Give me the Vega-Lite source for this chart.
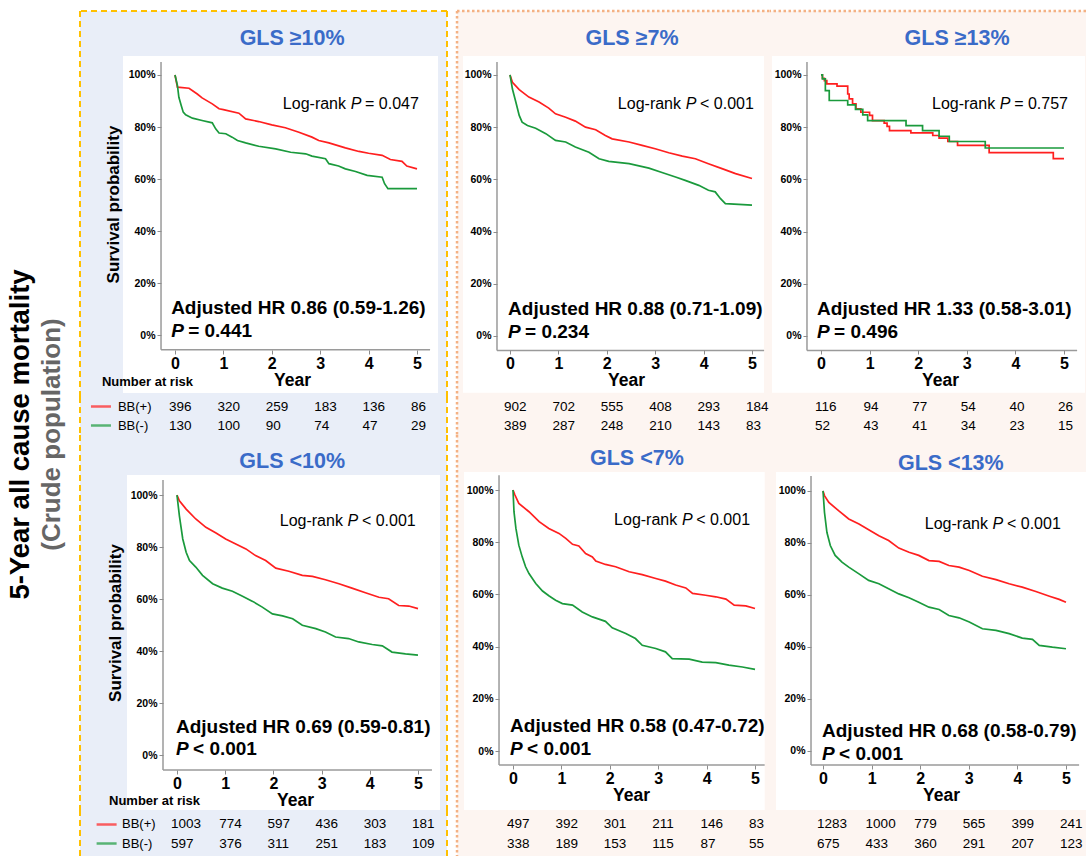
{
"$schema": "https://vega.github.io/schema/vega-lite/v6.json",
"background": "#ffffff",
"padding": {"left": 6, "top": 9, "right": 0, "bottom": 0},
"title": {"text": "5-Year all cause mortality", "subtitle": "(Crude population)", "orient": "left", "anchor": "middle", "font": "Liberation Sans", "fontSize": 27.5, "fontWeight": "bold", "color": "#000000", "subtitleFont": "Liberation Sans", "subtitleFontSize": 26, "subtitleFontWeight": "bold", "subtitleColor": "#666666", "subtitlePadding": 5, "offset": 14},
"config": {
  "font": "Liberation Sans",
  "view": {"stroke": null},
  "axis": {"grid": false, "domain": false, "labelColor": "#000000", "labelFontWeight": "bold", "tickColor": "#8c8c8c", "tickWidth": 1, "titleColor": "#000000", "titleFontWeight": "bold", "labelFont": "Liberation Sans", "titleFont": "Liberation Sans"},
  "axisX": {"labelFontSize": 16, "tickSize": 4, "labelPadding": 1, "titleFontSize": 17.5, "titlePadding": 0},
  "axisY": {"labelFontSize": 10.5, "tickSize": 4, "labelPadding": 2, "titleFontSize": 17, "titlePadding": 6}
},
"datasets": {
  "km1": [
    {"g":"BB(+)","t":0,"s":1},{"g":"BB(+)","t":0.05,"s":0.953},{"g":"BB(+)","t":0.29,"s":0.949},{"g":"BB(+)","t":0.46,"s":0.927},{"g":"BB(+)","t":0.56,"s":0.912},{"g":"BB(+)","t":0.77,"s":0.889},{"g":"BB(+)","t":0.91,"s":0.87},{"g":"BB(+)","t":1.0,"s":0.867},{"g":"BB(+)","t":1.32,"s":0.853},{"g":"BB(+)","t":1.46,"s":0.831},{"g":"BB(+)","t":1.73,"s":0.821},{"g":"BB(+)","t":2.0,"s":0.808},{"g":"BB(+)","t":2.28,"s":0.797},{"g":"BB(+)","t":2.56,"s":0.78},{"g":"BB(+)","t":2.83,"s":0.761},{"g":"BB(+)","t":2.97,"s":0.748},{"g":"BB(+)","t":3.18,"s":0.739},{"g":"BB(+)","t":3.52,"s":0.72},{"g":"BB(+)","t":3.8,"s":0.706},{"g":"BB(+)","t":4.0,"s":0.699},{"g":"BB(+)","t":4.28,"s":0.691},{"g":"BB(+)","t":4.45,"s":0.675},{"g":"BB(+)","t":4.69,"s":0.668},{"g":"BB(+)","t":4.79,"s":0.65},{"g":"BB(+)","t":5.0,"s":0.639},
    {"g":"BB(-)","t":0,"s":1},{"g":"BB(-)","t":0.05,"s":0.96},{"g":"BB(-)","t":0.08,"s":0.914},{"g":"BB(-)","t":0.13,"s":0.882},{"g":"BB(-)","t":0.17,"s":0.857},{"g":"BB(-)","t":0.22,"s":0.847},{"g":"BB(-)","t":0.36,"s":0.834},{"g":"BB(-)","t":0.56,"s":0.825},{"g":"BB(-)","t":0.77,"s":0.816},{"g":"BB(-)","t":0.84,"s":0.793},{"g":"BB(-)","t":0.91,"s":0.777},{"g":"BB(-)","t":1.05,"s":0.774},{"g":"BB(-)","t":1.18,"s":0.761},{"g":"BB(-)","t":1.29,"s":0.748},{"g":"BB(-)","t":1.46,"s":0.739},{"g":"BB(-)","t":1.73,"s":0.726},{"g":"BB(-)","t":2.08,"s":0.716},{"g":"BB(-)","t":2.39,"s":0.703},{"g":"BB(-)","t":2.7,"s":0.697},{"g":"BB(-)","t":2.83,"s":0.688},{"g":"BB(-)","t":3.11,"s":0.678},{"g":"BB(-)","t":3.18,"s":0.659},{"g":"BB(-)","t":3.38,"s":0.65},{"g":"BB(-)","t":3.52,"s":0.639},{"g":"BB(-)","t":3.73,"s":0.629},{"g":"BB(-)","t":3.97,"s":0.614},{"g":"BB(-)","t":4.28,"s":0.607},{"g":"BB(-)","t":4.33,"s":0.582},{"g":"BB(-)","t":4.4,"s":0.563},{"g":"BB(-)","t":5.0,"s":0.563}
  ],
  "km2": [
    {"g":"BB(+)","t":0,"s":1},{"g":"BB(+)","t":0.05,"s":0.972},{"g":"BB(+)","t":0.19,"s":0.944},{"g":"BB(+)","t":0.39,"s":0.915},{"g":"BB(+)","t":0.6,"s":0.896},{"g":"BB(+)","t":0.8,"s":0.873},{"g":"BB(+)","t":0.94,"s":0.851},{"g":"BB(+)","t":1.15,"s":0.838},{"g":"BB(+)","t":1.35,"s":0.823},{"g":"BB(+)","t":1.56,"s":0.8},{"g":"BB(+)","t":1.77,"s":0.79},{"g":"BB(+)","t":1.97,"s":0.768},{"g":"BB(+)","t":2.11,"s":0.755},{"g":"BB(+)","t":2.46,"s":0.743},{"g":"BB(+)","t":2.73,"s":0.73},{"g":"BB(+)","t":3.0,"s":0.717},{"g":"BB(+)","t":3.28,"s":0.702},{"g":"BB(+)","t":3.56,"s":0.689},{"g":"BB(+)","t":3.83,"s":0.679},{"g":"BB(+)","t":4.1,"s":0.66},{"g":"BB(+)","t":4.38,"s":0.641},{"g":"BB(+)","t":4.66,"s":0.622},{"g":"BB(+)","t":5.0,"s":0.603},
    {"g":"BB(-)","t":0,"s":1},{"g":"BB(-)","t":0.05,"s":0.946},{"g":"BB(-)","t":0.12,"s":0.896},{"g":"BB(-)","t":0.19,"s":0.845},{"g":"BB(-)","t":0.25,"s":0.819},{"g":"BB(-)","t":0.36,"s":0.806},{"g":"BB(-)","t":0.53,"s":0.796},{"g":"BB(-)","t":0.74,"s":0.775},{"g":"BB(-)","t":0.94,"s":0.749},{"g":"BB(-)","t":1.15,"s":0.743},{"g":"BB(-)","t":1.35,"s":0.724},{"g":"BB(-)","t":1.63,"s":0.704},{"g":"BB(-)","t":1.84,"s":0.679},{"g":"BB(-)","t":2.04,"s":0.669},{"g":"BB(-)","t":2.46,"s":0.66},{"g":"BB(-)","t":2.87,"s":0.643},{"g":"BB(-)","t":3.14,"s":0.626},{"g":"BB(-)","t":3.42,"s":0.609},{"g":"BB(-)","t":3.62,"s":0.596},{"g":"BB(-)","t":3.9,"s":0.577},{"g":"BB(-)","t":4.1,"s":0.558},{"g":"BB(-)","t":4.24,"s":0.552},{"g":"BB(-)","t":4.35,"s":0.526},{"g":"BB(-)","t":4.45,"s":0.507},{"g":"BB(-)","t":5.0,"s":0.501}
  ],
  "km3": [
    {"g":"BB(+)","t":0,"s":1},{"g":"BB(+)","t":0.03,"s":0.987},{"g":"BB(+)","t":0.07,"s":0.978},{"g":"BB(+)","t":0.12,"s":0.966},{"g":"BB(+)","t":0.33,"s":0.957},{"g":"BB(+)","t":0.55,"s":0.927},{"g":"BB(+)","t":0.58,"s":0.908},{"g":"BB(+)","t":0.65,"s":0.889},{"g":"BB(+)","t":0.72,"s":0.87},{"g":"BB(+)","t":0.82,"s":0.857},{"g":"BB(+)","t":1.0,"s":0.845},{"g":"BB(+)","t":1.06,"s":0.825},{"g":"BB(+)","t":1.3,"s":0.815},{"g":"BB(+)","t":1.36,"s":0.803},{"g":"BB(+)","t":1.41,"s":0.787},{"g":"BB(+)","t":1.85,"s":0.778},{"g":"BB(+)","t":2.3,"s":0.768},{"g":"BB(+)","t":2.43,"s":0.758},{"g":"BB(+)","t":2.61,"s":0.745},{"g":"BB(+)","t":2.81,"s":0.73},{"g":"BB(+)","t":3.46,"s":0.702},{"g":"BB(+)","t":4.78,"s":0.679},{"g":"BB(+)","t":5.0,"s":0.679},
    {"g":"BB(-)","t":0,"s":1},{"g":"BB(-)","t":0.03,"s":0.985},{"g":"BB(-)","t":0.09,"s":0.94},{"g":"BB(-)","t":0.17,"s":0.902},{"g":"BB(-)","t":0.55,"s":0.885},{"g":"BB(-)","t":0.71,"s":0.868},{"g":"BB(-)","t":0.86,"s":0.847},{"g":"BB(-)","t":0.96,"s":0.825},{"g":"BB(-)","t":1.75,"s":0.806},{"g":"BB(-)","t":2.09,"s":0.787},{"g":"BB(-)","t":2.43,"s":0.765},{"g":"BB(-)","t":2.64,"s":0.745},{"g":"BB(-)","t":3.38,"s":0.72},{"g":"BB(-)","t":5.0,"s":0.72}
  ],
  "km4": [
    {"g":"BB(+)","t":0,"s":1},{"g":"BB(+)","t":0.05,"s":0.978},{"g":"BB(+)","t":0.19,"s":0.946},{"g":"BB(+)","t":0.39,"s":0.908},{"g":"BB(+)","t":0.6,"s":0.876},{"g":"BB(+)","t":0.81,"s":0.854},{"g":"BB(+)","t":1.01,"s":0.831},{"g":"BB(+)","t":1.22,"s":0.812},{"g":"BB(+)","t":1.43,"s":0.793},{"g":"BB(+)","t":1.63,"s":0.767},{"g":"BB(+)","t":1.84,"s":0.748},{"g":"BB(+)","t":2.05,"s":0.719},{"g":"BB(+)","t":2.32,"s":0.707},{"g":"BB(+)","t":2.6,"s":0.691},{"g":"BB(+)","t":2.81,"s":0.687},{"g":"BB(+)","t":3.08,"s":0.674},{"g":"BB(+)","t":3.36,"s":0.659},{"g":"BB(+)","t":3.63,"s":0.642},{"g":"BB(+)","t":3.91,"s":0.624},{"g":"BB(+)","t":4.19,"s":0.607},{"g":"BB(+)","t":4.39,"s":0.601},{"g":"BB(+)","t":4.6,"s":0.575},{"g":"BB(+)","t":4.81,"s":0.573},{"g":"BB(+)","t":5.0,"s":0.563},
    {"g":"BB(-)","t":0,"s":1},{"g":"BB(-)","t":0.05,"s":0.92},{"g":"BB(-)","t":0.12,"s":0.831},{"g":"BB(-)","t":0.19,"s":0.78},{"g":"BB(-)","t":0.26,"s":0.748},{"g":"BB(-)","t":0.39,"s":0.723},{"g":"BB(-)","t":0.53,"s":0.691},{"g":"BB(-)","t":0.74,"s":0.659},{"g":"BB(-)","t":0.94,"s":0.642},{"g":"BB(-)","t":1.15,"s":0.63},{"g":"BB(-)","t":1.36,"s":0.611},{"g":"BB(-)","t":1.57,"s":0.591},{"g":"BB(-)","t":1.77,"s":0.569},{"g":"BB(-)","t":1.98,"s":0.543},{"g":"BB(-)","t":2.19,"s":0.535},{"g":"BB(-)","t":2.4,"s":0.524},{"g":"BB(-)","t":2.6,"s":0.499},{"g":"BB(-)","t":2.88,"s":0.486},{"g":"BB(-)","t":3.08,"s":0.473},{"g":"BB(-)","t":3.29,"s":0.454},{"g":"BB(-)","t":3.56,"s":0.448},{"g":"BB(-)","t":3.77,"s":0.435},{"g":"BB(-)","t":4.05,"s":0.425},{"g":"BB(-)","t":4.26,"s":0.42},{"g":"BB(-)","t":4.46,"s":0.396},{"g":"BB(-)","t":4.74,"s":0.389},{"g":"BB(-)","t":5.0,"s":0.384}
  ],
  "km5": [
    {"g":"BB(+)","t":0,"s":1},{"g":"BB(+)","t":0.04,"s":0.981},{"g":"BB(+)","t":0.12,"s":0.949},{"g":"BB(+)","t":0.33,"s":0.917},{"g":"BB(+)","t":0.54,"s":0.879},{"g":"BB(+)","t":0.74,"s":0.853},{"g":"BB(+)","t":0.95,"s":0.834},{"g":"BB(+)","t":1.09,"s":0.815},{"g":"BB(+)","t":1.23,"s":0.792},{"g":"BB(+)","t":1.36,"s":0.786},{"g":"BB(+)","t":1.5,"s":0.757},{"g":"BB(+)","t":1.64,"s":0.744},{"g":"BB(+)","t":1.71,"s":0.728},{"g":"BB(+)","t":1.91,"s":0.715},{"g":"BB(+)","t":2.12,"s":0.706},{"g":"BB(+)","t":2.4,"s":0.687},{"g":"BB(+)","t":2.67,"s":0.676},{"g":"BB(+)","t":2.95,"s":0.661},{"g":"BB(+)","t":3.15,"s":0.651},{"g":"BB(+)","t":3.36,"s":0.636},{"g":"BB(+)","t":3.57,"s":0.625},{"g":"BB(+)","t":3.71,"s":0.604},{"g":"BB(+)","t":3.98,"s":0.597},{"g":"BB(+)","t":4.19,"s":0.591},{"g":"BB(+)","t":4.4,"s":0.582},{"g":"BB(+)","t":4.57,"s":0.559},{"g":"BB(+)","t":4.81,"s":0.556},{"g":"BB(+)","t":5.0,"s":0.546},
    {"g":"BB(-)","t":0,"s":1},{"g":"BB(-)","t":0.02,"s":0.917},{"g":"BB(-)","t":0.06,"s":0.853},{"g":"BB(-)","t":0.12,"s":0.789},{"g":"BB(-)","t":0.19,"s":0.744},{"g":"BB(-)","t":0.26,"s":0.706},{"g":"BB(-)","t":0.33,"s":0.68},{"g":"BB(-)","t":0.47,"s":0.642},{"g":"BB(-)","t":0.61,"s":0.613},{"g":"BB(-)","t":0.74,"s":0.595},{"g":"BB(-)","t":0.88,"s":0.578},{"g":"BB(-)","t":1.02,"s":0.565},{"g":"BB(-)","t":1.23,"s":0.559},{"g":"BB(-)","t":1.43,"s":0.533},{"g":"BB(-)","t":1.64,"s":0.514},{"g":"BB(-)","t":1.91,"s":0.497},{"g":"BB(-)","t":2.05,"s":0.472},{"g":"BB(-)","t":2.33,"s":0.45},{"g":"BB(-)","t":2.53,"s":0.431},{"g":"BB(-)","t":2.67,"s":0.405},{"g":"BB(-)","t":2.95,"s":0.393},{"g":"BB(-)","t":3.15,"s":0.38},{"g":"BB(-)","t":3.29,"s":0.354},{"g":"BB(-)","t":3.64,"s":0.352},{"g":"BB(-)","t":3.91,"s":0.341},{"g":"BB(-)","t":4.19,"s":0.339},{"g":"BB(-)","t":4.46,"s":0.329},{"g":"BB(-)","t":4.74,"s":0.322},{"g":"BB(-)","t":5.0,"s":0.313}
  ],
  "km6": [
    {"g":"BB(+)","t":0,"s":1},{"g":"BB(+)","t":0.03,"s":0.982},{"g":"BB(+)","t":0.12,"s":0.956},{"g":"BB(+)","t":0.32,"s":0.924},{"g":"BB(+)","t":0.53,"s":0.892},{"g":"BB(+)","t":0.74,"s":0.873},{"g":"BB(+)","t":0.94,"s":0.851},{"g":"BB(+)","t":1.15,"s":0.828},{"g":"BB(+)","t":1.35,"s":0.809},{"g":"BB(+)","t":1.56,"s":0.78},{"g":"BB(+)","t":1.77,"s":0.764},{"g":"BB(+)","t":1.97,"s":0.752},{"g":"BB(+)","t":2.18,"s":0.732},{"g":"BB(+)","t":2.39,"s":0.729},{"g":"BB(+)","t":2.59,"s":0.713},{"g":"BB(+)","t":2.8,"s":0.707},{"g":"BB(+)","t":3.01,"s":0.694},{"g":"BB(+)","t":3.28,"s":0.672},{"g":"BB(+)","t":3.56,"s":0.659},{"g":"BB(+)","t":3.83,"s":0.643},{"g":"BB(+)","t":4.1,"s":0.63},{"g":"BB(+)","t":4.38,"s":0.613},{"g":"BB(+)","t":4.66,"s":0.595},{"g":"BB(+)","t":4.86,"s":0.583},{"g":"BB(+)","t":5.0,"s":0.572},
    {"g":"BB(-)","t":0,"s":1},{"g":"BB(-)","t":0.03,"s":0.918},{"g":"BB(-)","t":0.08,"s":0.841},{"g":"BB(-)","t":0.15,"s":0.79},{"g":"BB(-)","t":0.25,"s":0.752},{"g":"BB(-)","t":0.39,"s":0.726},{"g":"BB(-)","t":0.53,"s":0.707},{"g":"BB(-)","t":0.74,"s":0.681},{"g":"BB(-)","t":0.94,"s":0.656},{"g":"BB(-)","t":1.15,"s":0.643},{"g":"BB(-)","t":1.35,"s":0.624},{"g":"BB(-)","t":1.56,"s":0.604},{"g":"BB(-)","t":1.77,"s":0.589},{"g":"BB(-)","t":1.97,"s":0.572},{"g":"BB(-)","t":2.18,"s":0.553},{"g":"BB(-)","t":2.39,"s":0.544},{"g":"BB(-)","t":2.59,"s":0.521},{"g":"BB(-)","t":2.8,"s":0.512},{"g":"BB(-)","t":3.01,"s":0.496},{"g":"BB(-)","t":3.28,"s":0.47},{"g":"BB(-)","t":3.56,"s":0.464},{"g":"BB(-)","t":3.83,"s":0.451},{"g":"BB(-)","t":4.1,"s":0.434},{"g":"BB(-)","t":4.31,"s":0.429},{"g":"BB(-)","t":4.45,"s":0.406},{"g":"BB(-)","t":4.72,"s":0.399},{"g":"BB(-)","t":5.0,"s":0.393}
  ],
  "r1": [{"g":"BB(+)","t":0,"n":396},{"g":"BB(+)","t":1,"n":320},{"g":"BB(+)","t":2,"n":259},{"g":"BB(+)","t":3,"n":183},{"g":"BB(+)","t":4,"n":136},{"g":"BB(+)","t":5,"n":86},{"g":"BB(-)","t":0,"n":130},{"g":"BB(-)","t":1,"n":100},{"g":"BB(-)","t":2,"n":90},{"g":"BB(-)","t":3,"n":74},{"g":"BB(-)","t":4,"n":47},{"g":"BB(-)","t":5,"n":29}],
  "r2": [{"g":"BB(+)","t":0,"n":902},{"g":"BB(+)","t":1,"n":702},{"g":"BB(+)","t":2,"n":555},{"g":"BB(+)","t":3,"n":408},{"g":"BB(+)","t":4,"n":293},{"g":"BB(+)","t":5,"n":184},{"g":"BB(-)","t":0,"n":389},{"g":"BB(-)","t":1,"n":287},{"g":"BB(-)","t":2,"n":248},{"g":"BB(-)","t":3,"n":210},{"g":"BB(-)","t":4,"n":143},{"g":"BB(-)","t":5,"n":83}],
  "r3": [{"g":"BB(+)","t":0,"n":116},{"g":"BB(+)","t":1,"n":94},{"g":"BB(+)","t":2,"n":77},{"g":"BB(+)","t":3,"n":54},{"g":"BB(+)","t":4,"n":40},{"g":"BB(+)","t":5,"n":26},{"g":"BB(-)","t":0,"n":52},{"g":"BB(-)","t":1,"n":43},{"g":"BB(-)","t":2,"n":41},{"g":"BB(-)","t":3,"n":34},{"g":"BB(-)","t":4,"n":23},{"g":"BB(-)","t":5,"n":15}],
  "r4": [{"g":"BB(+)","t":0,"n":1003},{"g":"BB(+)","t":1,"n":774},{"g":"BB(+)","t":2,"n":597},{"g":"BB(+)","t":3,"n":436},{"g":"BB(+)","t":4,"n":303},{"g":"BB(+)","t":5,"n":181},{"g":"BB(-)","t":0,"n":597},{"g":"BB(-)","t":1,"n":376},{"g":"BB(-)","t":2,"n":311},{"g":"BB(-)","t":3,"n":251},{"g":"BB(-)","t":4,"n":183},{"g":"BB(-)","t":5,"n":109}],
  "r5": [{"g":"BB(+)","t":0,"n":497},{"g":"BB(+)","t":1,"n":392},{"g":"BB(+)","t":2,"n":301},{"g":"BB(+)","t":3,"n":211},{"g":"BB(+)","t":4,"n":146},{"g":"BB(+)","t":5,"n":83},{"g":"BB(-)","t":0,"n":338},{"g":"BB(-)","t":1,"n":189},{"g":"BB(-)","t":2,"n":153},{"g":"BB(-)","t":3,"n":115},{"g":"BB(-)","t":4,"n":87},{"g":"BB(-)","t":5,"n":55}],
  "r6": [{"g":"BB(+)","t":0,"n":1283},{"g":"BB(+)","t":1,"n":1000},{"g":"BB(+)","t":2,"n":779},{"g":"BB(+)","t":3,"n":565},{"g":"BB(+)","t":4,"n":399},{"g":"BB(+)","t":5,"n":241},{"g":"BB(-)","t":0,"n":675},{"g":"BB(-)","t":1,"n":433},{"g":"BB(-)","t":2,"n":360},{"g":"BB(-)","t":3,"n":291},{"g":"BB(-)","t":4,"n":207},{"g":"BB(-)","t":5,"n":123}],
  "groups": [{"g":"BB(+)"},{"g":"BB(-)"}]
},
"columns": 3,
"spacing": {"row": 0, "column": 0},
"bounds": "flush",
"align": "each",
"concat": [
  {"width": 367, "height": 386, "view": {"fill": "#e9eef8", "stroke": null},
   "layer": [
    {"data": {"values": [{}]}, "mark": {"type": "rect", "fill": "#ffffff"}, "encoding": {
      "x": {"datum": -1.074, "type": "quantitative", "scale": {"domain": [-1.963, 5.62], "nice": false, "zero": false}, "axis": {"values": [0,1,2,3,4,5], "offset": -47, "title": "Year", "titleX": 212, "zindex": 1}},
      "x2": {"datum": 5.434},
      "y": {"datum": 1.073, "type": "quantitative", "scale": {"domain": [-0.238, 1.246], "nice": false, "zero": false}, "axis": {"values": [0,0.2,0.4,0.6,0.8,1], "format": ".0%", "offset": -81, "title": "Survival probability", "zindex": 1}},
      "y2": {"datum": -0.223}}},
    {"data": {"values": [{}]}, "mark": {"type": "rule", "color": "#9a9a9a", "strokeWidth": 1.5}, "encoding": {"x": {"datum": -0.289, "type": "quantitative", "scale": {"domain": [-1.963, 5.62], "nice": false, "zero": false}}, "y": {"datum": -0.056, "type": "quantitative", "scale": {"domain": [-0.238, 1.246], "nice": false, "zero": false}}, "y2": {"datum": 1.05}}},
    {"data": {"values": [{}]}, "mark": {"type": "rule", "color": "#9a9a9a", "strokeWidth": 1.5}, "encoding": {"x": {"datum": -0.289, "type": "quantitative", "scale": {"domain": [-1.963, 5.62], "nice": false, "zero": false}}, "x2": {"datum": 5.27}, "y": {"datum": -0.056, "type": "quantitative", "scale": {"domain": [-0.238, 1.246], "nice": false, "zero": false}}}},
    {"data": {"name": "km1"}, "mark": {"type": "line", "strokeWidth": 1.7}, "encoding": {"x": {"field": "t", "type": "quantitative", "title": "Year", "scale": {"domain": [-1.963, 5.62], "nice": false, "zero": false}}, "y": {"field": "s", "type": "quantitative", "title": "Survival probability", "scale": {"domain": [-0.238, 1.246], "nice": false, "zero": false}}, "color": {"field": "g", "type": "nominal", "scale": {"domain": ["BB(+)","BB(-)"], "range": ["#ff1f1f","#1a9a3c"]}, "legend": null}}},
    {"data": {"values": [{}]}, "mark": {"type": "text", "text": "GLS ≥10%", "fontSize": 21.5, "fontWeight": "bold", "color": "#3a6bc8", "align": "center", "baseline": "middle"}, "encoding": {"x": {"datum": 2.42, "type": "quantitative", "scale": {"domain": [-1.963, 5.62], "nice": false, "zero": false}}, "y": {"datum": 1.138, "type": "quantitative", "scale": {"domain": [-0.238, 1.246], "nice": false, "zero": false}}}},
    {"data": {"values": [{}]}, "mark": {"type": "text", "text": "Log-rank", "fontSize": 16, "color": "#000000", "align": "right", "dx": -10, "baseline": "middle"}, "encoding": {"x": {"datum": 3.74, "type": "quantitative", "scale": {"domain": [-1.963, 5.62], "nice": false, "zero": false}}, "y": {"datum": 0.888, "type": "quantitative", "scale": {"domain": [-0.238, 1.246], "nice": false, "zero": false}}}},
    {"data": {"values": [{}]}, "mark": {"type": "text", "text": "P", "fontSize": 16, "fontStyle": "italic", "color": "#000000", "align": "center", "baseline": "middle"}, "encoding": {"x": {"datum": 3.74, "type": "quantitative", "scale": {"domain": [-1.963, 5.62], "nice": false, "zero": false}}, "y": {"datum": 0.888, "type": "quantitative", "scale": {"domain": [-0.238, 1.246], "nice": false, "zero": false}}}},
    {"data": {"values": [{}]}, "mark": {"type": "text", "text": "= 0.047", "fontSize": 16, "color": "#000000", "align": "left", "dx": 9, "baseline": "middle"}, "encoding": {"x": {"datum": 3.74, "type": "quantitative", "scale": {"domain": [-1.963, 5.62], "nice": false, "zero": false}}, "y": {"datum": 0.888, "type": "quantitative", "scale": {"domain": [-0.238, 1.246], "nice": false, "zero": false}}}},
    {"data": {"values": [{}]}, "mark": {"type": "text", "text": "Adjusted HR 0.86 (0.59-1.26)", "fontSize": 19, "fontWeight": "bold", "color": "#000000", "align": "left", "baseline": "middle"}, "encoding": {"x": {"datum": -0.08, "type": "quantitative", "scale": {"domain": [-1.963, 5.62], "nice": false, "zero": false}}, "y": {"datum": 0.104, "type": "quantitative", "scale": {"domain": [-0.238, 1.246], "nice": false, "zero": false}}}},
    {"data": {"values": [{}]}, "mark": {"type": "text", "text": "P", "fontSize": 19, "fontWeight": "bold", "fontStyle": "italic", "color": "#000000", "align": "left", "baseline": "middle"}, "encoding": {"x": {"datum": -0.08, "type": "quantitative", "scale": {"domain": [-1.963, 5.62], "nice": false, "zero": false}}, "y": {"datum": 0.015, "type": "quantitative", "scale": {"domain": [-0.238, 1.246], "nice": false, "zero": false}}}},
    {"data": {"values": [{}]}, "mark": {"type": "text", "text": "= 0.441", "fontSize": 19, "fontWeight": "bold", "color": "#000000", "align": "left", "dx": 17, "baseline": "middle"}, "encoding": {"x": {"datum": -0.08, "type": "quantitative", "scale": {"domain": [-1.963, 5.62], "nice": false, "zero": false}}, "y": {"datum": 0.015, "type": "quantitative", "scale": {"domain": [-0.238, 1.246], "nice": false, "zero": false}}}},
    {"data": {"values": [{}]}, "mark": {"type": "text", "text": "Number at risk", "fontSize": 13, "fontWeight": "bold", "color": "#000000", "align": "left", "baseline": "middle"}, "encoding": {"x": {"datum": -1.51, "type": "quantitative", "scale": {"domain": [-1.963, 5.62], "nice": false, "zero": false}}, "y": {"datum": -0.181, "type": "quantitative", "scale": {"domain": [-0.238, 1.246], "nice": false, "zero": false}}}},
    {"data": {"values": [{}]}, "mark": {"type": "rule", "color": "#ffc000", "strokeWidth": 2, "strokeDash": [6,4]}, "encoding": {"x": {"datum": -1.963, "type": "quantitative", "scale": {"domain": [-1.963, 5.62], "nice": false, "zero": false}}}},
    {"data": {"values": [{}]}, "mark": {"type": "rule", "color": "#ffc000", "strokeWidth": 2, "strokeDash": [6,4]}, "encoding": {"x": {"datum": 5.62, "type": "quantitative", "scale": {"domain": [-1.963, 5.62], "nice": false, "zero": false}}}},
    {"data": {"values": [{}]}, "mark": {"type": "rule", "color": "#ffc000", "strokeWidth": 2, "strokeDash": [6,4]}, "encoding": {"y": {"datum": 1.246, "type": "quantitative", "scale": {"domain": [-0.238, 1.246], "nice": false, "zero": false}}}}
   ]},
  {"width": 323, "height": 386,
   "layer": [
    {"data": {"values": [{}]}, "mark": {"type": "rect", "fill": "#fdf5f1"}, "encoding": {"x": {"datum": -1.095, "type": "quantitative", "scale": {"domain": [-1.302, 5.372], "nice": false, "zero": false}}, "x2": {"datum": 5.372}}},
    {"data": {"values": [{}]}, "mark": {"type": "rect", "fill": "#ffffff"}, "encoding": {
      "x": {"datum": -0.971, "type": "quantitative", "scale": {"domain": [-1.302, 5.372], "nice": false, "zero": false}, "axis": {"values": [0,1,2,3,4,5], "offset": -47, "title": "Year", "titleX": 179, "zindex": 1}},
      "x2": {"datum": 5.248},
      "y": {"datum": 1.073, "type": "quantitative", "scale": {"domain": [-0.234, 1.245], "nice": false, "zero": false}, "axis": {"values": [0,0.2,0.4,0.6,0.8,1], "format": ".0%", "offset": -50, "title": null, "zindex": 1}},
      "y2": {"datum": -0.218}}},
    {"data": {"values": [{}]}, "mark": {"type": "rule", "color": "#9a9a9a", "strokeWidth": 1.5}, "encoding": {"x": {"datum": -0.269, "type": "quantitative", "scale": {"domain": [-1.302, 5.372], "nice": false, "zero": false}}, "y": {"datum": -0.056, "type": "quantitative", "scale": {"domain": [-0.234, 1.245], "nice": false, "zero": false}}, "y2": {"datum": 1.05}}},
    {"data": {"values": [{}]}, "mark": {"type": "rule", "color": "#9a9a9a", "strokeWidth": 1.5}, "encoding": {"x": {"datum": -0.269, "type": "quantitative", "scale": {"domain": [-1.302, 5.372], "nice": false, "zero": false}}, "x2": {"datum": 5.25}, "y": {"datum": -0.056, "type": "quantitative", "scale": {"domain": [-0.234, 1.245], "nice": false, "zero": false}}}},
    {"data": {"name": "km2"}, "mark": {"type": "line", "strokeWidth": 1.7}, "encoding": {"x": {"field": "t", "type": "quantitative", "title": "Year", "scale": {"domain": [-1.302, 5.372], "nice": false, "zero": false}}, "y": {"field": "s", "type": "quantitative", "title": null, "scale": {"domain": [-0.234, 1.245], "nice": false, "zero": false}}, "color": {"field": "g", "type": "nominal", "scale": {"domain": ["BB(+)","BB(-)"], "range": ["#ff1f1f","#1a9a3c"]}, "legend": null}}},
    {"data": {"values": [{}]}, "mark": {"type": "text", "text": "GLS ≥7%", "fontSize": 21.5, "fontWeight": "bold", "color": "#3a6bc8", "align": "center", "baseline": "middle"}, "encoding": {"x": {"datum": 2.52, "type": "quantitative", "scale": {"domain": [-1.302, 5.372], "nice": false, "zero": false}}, "y": {"datum": 1.138, "type": "quantitative", "scale": {"domain": [-0.234, 1.245], "nice": false, "zero": false}}}},
    {"data": {"values": [{}]}, "mark": {"type": "text", "text": "Log-rank", "fontSize": 16, "color": "#000000", "align": "right", "dx": -10, "baseline": "middle"}, "encoding": {"x": {"datum": 3.74, "type": "quantitative", "scale": {"domain": [-1.302, 5.372], "nice": false, "zero": false}}, "y": {"datum": 0.888, "type": "quantitative", "scale": {"domain": [-0.234, 1.245], "nice": false, "zero": false}}}},
    {"data": {"values": [{}]}, "mark": {"type": "text", "text": "P", "fontSize": 16, "fontStyle": "italic", "color": "#000000", "align": "center", "baseline": "middle"}, "encoding": {"x": {"datum": 3.74, "type": "quantitative", "scale": {"domain": [-1.302, 5.372], "nice": false, "zero": false}}, "y": {"datum": 0.888, "type": "quantitative", "scale": {"domain": [-0.234, 1.245], "nice": false, "zero": false}}}},
    {"data": {"values": [{}]}, "mark": {"type": "text", "text": "< 0.001", "fontSize": 16, "color": "#000000", "align": "left", "dx": 9, "baseline": "middle"}, "encoding": {"x": {"datum": 3.74, "type": "quantitative", "scale": {"domain": [-1.302, 5.372], "nice": false, "zero": false}}, "y": {"datum": 0.888, "type": "quantitative", "scale": {"domain": [-0.234, 1.245], "nice": false, "zero": false}}}},
    {"data": {"values": [{}]}, "mark": {"type": "text", "text": "Adjusted HR 0.88 (0.71-1.09)", "fontSize": 19, "fontWeight": "bold", "color": "#000000", "align": "left", "baseline": "middle"}, "encoding": {"x": {"datum": -0.04, "type": "quantitative", "scale": {"domain": [-1.302, 5.372], "nice": false, "zero": false}}, "y": {"datum": 0.103, "type": "quantitative", "scale": {"domain": [-0.234, 1.245], "nice": false, "zero": false}}}},
    {"data": {"values": [{}]}, "mark": {"type": "text", "text": "P", "fontSize": 19, "fontWeight": "bold", "fontStyle": "italic", "color": "#000000", "align": "left", "baseline": "middle"}, "encoding": {"x": {"datum": -0.04, "type": "quantitative", "scale": {"domain": [-1.302, 5.372], "nice": false, "zero": false}}, "y": {"datum": 0.015, "type": "quantitative", "scale": {"domain": [-0.234, 1.245], "nice": false, "zero": false}}}},
    {"data": {"values": [{}]}, "mark": {"type": "text", "text": "= 0.234", "fontSize": 19, "fontWeight": "bold", "color": "#000000", "align": "left", "dx": 17, "baseline": "middle"}, "encoding": {"x": {"datum": -0.04, "type": "quantitative", "scale": {"domain": [-1.302, 5.372], "nice": false, "zero": false}}, "y": {"datum": 0.015, "type": "quantitative", "scale": {"domain": [-0.234, 1.245], "nice": false, "zero": false}}}},
    {"data": {"values": [{}]}, "mark": {"type": "rule", "color": "#f4b183", "strokeWidth": 2.5, "strokeDash": [2.5,2.5]}, "encoding": {"x": {"datum": -1.095, "type": "quantitative", "scale": {"domain": [-1.302, 5.372], "nice": false, "zero": false}}}},
    {"data": {"values": [{}]}, "mark": {"type": "rule", "color": "#f4b183", "strokeWidth": 2.5, "strokeDash": [2.5,2.5]}, "encoding": {"x": {"datum": -1.095, "type": "quantitative", "scale": {"domain": [-1.302, 5.372], "nice": false, "zero": false}}, "x2": {"datum": 5.372}, "y": {"datum": 1.245, "type": "quantitative", "scale": {"domain": [-0.234, 1.245], "nice": false, "zero": false}}}}
   ]},
  {"width": 316, "height": 386, "view": {"fill": "#fdf5f1", "stroke": null},
   "layer": [
    {"data": {"values": [{}]}, "mark": {"type": "rect", "fill": "#ffffff"}, "encoding": {
      "x": {"datum": -1.008, "type": "quantitative", "scale": {"domain": [-1.049, 5.453], "nice": false, "zero": false}, "axis": {"values": [0,1,2,3,4,5], "offset": -47, "title": "Year", "titleX": 170, "zindex": 1}},
      "x2": {"datum": 5.432},
      "y": {"datum": 1.073, "type": "quantitative", "scale": {"domain": [-0.234, 1.245], "nice": false, "zero": false}, "axis": {"values": [0,0.2,0.4,0.6,0.8,1], "format": ".0%", "offset": -37, "title": null, "zindex": 1}},
      "y2": {"datum": -0.218}}},
    {"data": {"values": [{}]}, "mark": {"type": "rule", "color": "#9a9a9a", "strokeWidth": 1.5}, "encoding": {"x": {"datum": -0.288, "type": "quantitative", "scale": {"domain": [-1.049, 5.453], "nice": false, "zero": false}}, "y": {"datum": -0.056, "type": "quantitative", "scale": {"domain": [-0.234, 1.245], "nice": false, "zero": false}}, "y2": {"datum": 1.05}}},
    {"data": {"values": [{}]}, "mark": {"type": "rule", "color": "#9a9a9a", "strokeWidth": 1.5}, "encoding": {"x": {"datum": -0.288, "type": "quantitative", "scale": {"domain": [-1.049, 5.453], "nice": false, "zero": false}}, "x2": {"datum": 5.27}, "y": {"datum": -0.056, "type": "quantitative", "scale": {"domain": [-0.234, 1.245], "nice": false, "zero": false}}}},
    {"data": {"name": "km3"}, "mark": {"type": "line", "strokeWidth": 1.7, "interpolate": "step-after"}, "encoding": {"x": {"field": "t", "type": "quantitative", "title": "Year", "scale": {"domain": [-1.049, 5.453], "nice": false, "zero": false}}, "y": {"field": "s", "type": "quantitative", "title": null, "scale": {"domain": [-0.234, 1.245], "nice": false, "zero": false}}, "color": {"field": "g", "type": "nominal", "scale": {"domain": ["BB(+)","BB(-)"], "range": ["#ff1f1f","#1a9a3c"]}, "legend": null}}},
    {"data": {"values": [{}]}, "mark": {"type": "text", "text": "GLS ≥13%", "fontSize": 21.5, "fontWeight": "bold", "color": "#3a6bc8", "align": "center", "baseline": "middle"}, "encoding": {"x": {"datum": 2.8, "type": "quantitative", "scale": {"domain": [-1.049, 5.453], "nice": false, "zero": false}}, "y": {"datum": 1.138, "type": "quantitative", "scale": {"domain": [-0.234, 1.245], "nice": false, "zero": false}}}},
    {"data": {"values": [{}]}, "mark": {"type": "text", "text": "Log-rank", "fontSize": 16, "color": "#000000", "align": "right", "dx": -10, "baseline": "middle"}, "encoding": {"x": {"datum": 3.79, "type": "quantitative", "scale": {"domain": [-1.049, 5.453], "nice": false, "zero": false}}, "y": {"datum": 0.888, "type": "quantitative", "scale": {"domain": [-0.234, 1.245], "nice": false, "zero": false}}}},
    {"data": {"values": [{}]}, "mark": {"type": "text", "text": "P", "fontSize": 16, "fontStyle": "italic", "color": "#000000", "align": "center", "baseline": "middle"}, "encoding": {"x": {"datum": 3.79, "type": "quantitative", "scale": {"domain": [-1.049, 5.453], "nice": false, "zero": false}}, "y": {"datum": 0.888, "type": "quantitative", "scale": {"domain": [-0.234, 1.245], "nice": false, "zero": false}}}},
    {"data": {"values": [{}]}, "mark": {"type": "text", "text": "= 0.757", "fontSize": 16, "color": "#000000", "align": "left", "dx": 9, "baseline": "middle"}, "encoding": {"x": {"datum": 3.79, "type": "quantitative", "scale": {"domain": [-1.049, 5.453], "nice": false, "zero": false}}, "y": {"datum": 0.888, "type": "quantitative", "scale": {"domain": [-0.234, 1.245], "nice": false, "zero": false}}}},
    {"data": {"values": [{}]}, "mark": {"type": "text", "text": "Adjusted HR 1.33 (0.58-3.01)", "fontSize": 19, "fontWeight": "bold", "color": "#000000", "align": "left", "baseline": "middle"}, "encoding": {"x": {"datum": -0.08, "type": "quantitative", "scale": {"domain": [-1.049, 5.453], "nice": false, "zero": false}}, "y": {"datum": 0.103, "type": "quantitative", "scale": {"domain": [-0.234, 1.245], "nice": false, "zero": false}}}},
    {"data": {"values": [{}]}, "mark": {"type": "text", "text": "P", "fontSize": 19, "fontWeight": "bold", "fontStyle": "italic", "color": "#000000", "align": "left", "baseline": "middle"}, "encoding": {"x": {"datum": -0.08, "type": "quantitative", "scale": {"domain": [-1.049, 5.453], "nice": false, "zero": false}}, "y": {"datum": 0.015, "type": "quantitative", "scale": {"domain": [-0.234, 1.245], "nice": false, "zero": false}}}},
    {"data": {"values": [{}]}, "mark": {"type": "text", "text": "= 0.496", "fontSize": 19, "fontWeight": "bold", "color": "#000000", "align": "left", "dx": 17, "baseline": "middle"}, "encoding": {"x": {"datum": -0.08, "type": "quantitative", "scale": {"domain": [-1.049, 5.453], "nice": false, "zero": false}}, "y": {"datum": 0.015, "type": "quantitative", "scale": {"domain": [-0.234, 1.245], "nice": false, "zero": false}}}},
    {"data": {"values": [{}]}, "mark": {"type": "rule", "color": "#f4b183", "strokeWidth": 2.5, "strokeDash": [2.5,2.5]}, "encoding": {"y": {"datum": 1.245, "type": "quantitative", "scale": {"domain": [-0.234, 1.245], "nice": false, "zero": false}}}}
   ]},
  {"width": 367, "height": 38, "view": {"fill": "#e9eef8", "stroke": null},
   "layer": [
    {"data": {"name": "r1"}, "mark": {"type": "text", "align": "left", "dx": -6, "baseline": "middle", "fontSize": 13.5, "color": "#000000"}, "encoding": {"x": {"field": "t", "type": "quantitative", "scale": {"domain": [-1.963, 5.62], "nice": false, "zero": false}, "axis": null}, "y": {"field": "g", "type": "nominal", "scale": {"type": "point", "domain": ["BB(+)","BB(-)"], "padding": 0.5}, "axis": null}, "text": {"field": "n", "type": "nominal"}}},
    {"data": {"name": "groups"}, "mark": {"type": "tick", "orient": "horizontal", "size": 20, "thickness": 2.5}, "encoding": {"x": {"datum": -1.53, "type": "quantitative", "scale": {"domain": [-1.963, 5.62], "nice": false, "zero": false}, "axis": null}, "y": {"field": "g", "type": "nominal", "scale": {"type": "point", "domain": ["BB(+)","BB(-)"], "padding": 0.5}, "axis": null}, "color": {"field": "g", "type": "nominal", "scale": {"domain": ["BB(+)","BB(-)"], "range": ["#ff1f1f","#1a9a3c"]}, "legend": null}}},
    {"data": {"name": "groups"}, "mark": {"type": "text", "align": "left", "baseline": "middle", "fontSize": 13, "color": "#000000"}, "encoding": {"x": {"datum": -1.18, "type": "quantitative", "scale": {"domain": [-1.963, 5.62], "nice": false, "zero": false}, "axis": null}, "y": {"field": "g", "type": "nominal", "scale": {"type": "point", "domain": ["BB(+)","BB(-)"], "padding": 0.5}, "axis": null}, "text": {"field": "g", "type": "nominal"}}},
    {"data": {"values": [{}]}, "mark": {"type": "rule", "color": "#ffc000", "strokeWidth": 2, "strokeDash": [6,4]}, "encoding": {"x": {"datum": -1.963, "type": "quantitative", "scale": {"domain": [-1.963, 5.62], "nice": false, "zero": false}, "axis": null}}},
    {"data": {"values": [{}]}, "mark": {"type": "rule", "color": "#ffc000", "strokeWidth": 2, "strokeDash": [6,4]}, "encoding": {"x": {"datum": 5.62, "type": "quantitative", "scale": {"domain": [-1.963, 5.62], "nice": false, "zero": false}, "axis": null}}}
   ]},
  {"width": 323, "height": 38,
   "layer": [
    {"data": {"values": [{}]}, "mark": {"type": "rect", "fill": "#fdf5f1"}, "encoding": {"x": {"datum": -1.095, "type": "quantitative", "scale": {"domain": [-1.302, 5.372], "nice": false, "zero": false}, "axis": null}, "x2": {"datum": 5.372}}},
    {"data": {"name": "r2"}, "mark": {"type": "text", "align": "left", "dx": -6, "baseline": "middle", "fontSize": 13.5, "color": "#000000"}, "encoding": {"x": {"field": "t", "type": "quantitative", "scale": {"domain": [-1.302, 5.372], "nice": false, "zero": false}, "axis": null}, "y": {"field": "g", "type": "nominal", "scale": {"type": "point", "domain": ["BB(+)","BB(-)"], "padding": 0.5}, "axis": null}, "text": {"field": "n", "type": "nominal"}}},
    {"data": {"values": [{}]}, "mark": {"type": "rule", "color": "#f4b183", "strokeWidth": 2.5, "strokeDash": [2.5,2.5]}, "encoding": {"x": {"datum": -1.095, "type": "quantitative", "scale": {"domain": [-1.302, 5.372], "nice": false, "zero": false}, "axis": null}}}
   ]},
  {"width": 316, "height": 38, "view": {"fill": "#fdf5f1", "stroke": null},
   "layer": [
    {"data": {"name": "r3"}, "mark": {"type": "text", "align": "left", "dx": -6, "baseline": "middle", "fontSize": 13.5, "color": "#000000"}, "encoding": {"x": {"field": "t", "type": "quantitative", "scale": {"domain": [-1.049, 5.453], "nice": false, "zero": false}, "axis": null}, "y": {"field": "g", "type": "nominal", "scale": {"type": "point", "domain": ["BB(+)","BB(-)"], "padding": 0.5}, "axis": null}, "text": {"field": "n", "type": "nominal"}}}
   ]},
  {"width": 367, "height": 375, "view": {"fill": "#e9eef8", "stroke": null},
   "layer": [
    {"data": {"values": [{}]}, "mark": {"type": "rect", "fill": "#ffffff"}, "encoding": {
      "x": {"datum": -1.037, "type": "quantitative", "scale": {"domain": [-2.012, 5.602], "nice": false, "zero": false}, "axis": {"values": [0,1,2,3,4,5], "offset": -40, "title": "Year", "titleX": 215, "zindex": 1}},
      "x2": {"datum": 5.456},
      "y": {"datum": 1.077, "type": "quantitative", "scale": {"domain": [-0.2115, 1.231], "nice": false, "zero": false}, "axis": {"values": [0,0.2,0.4,0.6,0.8,1], "format": ".0%", "offset": -83, "title": "Survival probability", "zindex": 1}},
      "y2": {"datum": -0.2115}}},
    {"data": {"values": [{}]}, "mark": {"type": "rule", "color": "#9a9a9a", "strokeWidth": 1.5}, "encoding": {"x": {"datum": -0.29, "type": "quantitative", "scale": {"domain": [-2.012, 5.602], "nice": false, "zero": false}}, "y": {"datum": -0.058, "type": "quantitative", "scale": {"domain": [-0.2115, 1.231], "nice": false, "zero": false}}, "y2": {"datum": 1.058}}},
    {"data": {"values": [{}]}, "mark": {"type": "rule", "color": "#9a9a9a", "strokeWidth": 1.5}, "encoding": {"x": {"datum": -0.29, "type": "quantitative", "scale": {"domain": [-2.012, 5.602], "nice": false, "zero": false}}, "x2": {"datum": 5.29}, "y": {"datum": -0.058, "type": "quantitative", "scale": {"domain": [-0.2115, 1.231], "nice": false, "zero": false}}}},
    {"data": {"name": "km4"}, "mark": {"type": "line", "strokeWidth": 1.7}, "encoding": {"x": {"field": "t", "type": "quantitative", "title": "Year", "scale": {"domain": [-2.012, 5.602], "nice": false, "zero": false}}, "y": {"field": "s", "type": "quantitative", "title": "Survival probability", "scale": {"domain": [-0.2115, 1.231], "nice": false, "zero": false}}, "color": {"field": "g", "type": "nominal", "scale": {"domain": ["BB(+)","BB(-)"], "range": ["#ff1f1f","#1a9a3c"]}, "legend": null}}},
    {"data": {"values": [{}]}, "mark": {"type": "text", "text": "GLS <10%", "fontSize": 21.5, "fontWeight": "bold", "color": "#3a6bc8", "align": "center", "baseline": "middle"}, "encoding": {"x": {"datum": 2.39, "type": "quantitative", "scale": {"domain": [-2.012, 5.602], "nice": false, "zero": false}}, "y": {"datum": 1.127, "type": "quantitative", "scale": {"domain": [-0.2115, 1.231], "nice": false, "zero": false}}}},
    {"data": {"values": [{}]}, "mark": {"type": "text", "text": "Log-rank", "fontSize": 16, "color": "#000000", "align": "right", "dx": -10, "baseline": "middle"}, "encoding": {"x": {"datum": 3.65, "type": "quantitative", "scale": {"domain": [-2.012, 5.602], "nice": false, "zero": false}}, "y": {"datum": 0.9, "type": "quantitative", "scale": {"domain": [-0.2115, 1.231], "nice": false, "zero": false}}}},
    {"data": {"values": [{}]}, "mark": {"type": "text", "text": "P", "fontSize": 16, "fontStyle": "italic", "color": "#000000", "align": "center", "baseline": "middle"}, "encoding": {"x": {"datum": 3.65, "type": "quantitative", "scale": {"domain": [-2.012, 5.602], "nice": false, "zero": false}}, "y": {"datum": 0.9, "type": "quantitative", "scale": {"domain": [-0.2115, 1.231], "nice": false, "zero": false}}}},
    {"data": {"values": [{}]}, "mark": {"type": "text", "text": "< 0.001", "fontSize": 16, "color": "#000000", "align": "left", "dx": 9, "baseline": "middle"}, "encoding": {"x": {"datum": 3.65, "type": "quantitative", "scale": {"domain": [-2.012, 5.602], "nice": false, "zero": false}}, "y": {"datum": 0.9, "type": "quantitative", "scale": {"domain": [-0.2115, 1.231], "nice": false, "zero": false}}}},
    {"data": {"values": [{}]}, "mark": {"type": "text", "text": "Adjusted HR 0.69 (0.59-0.81)", "fontSize": 19, "fontWeight": "bold", "color": "#000000", "align": "left", "baseline": "middle"}, "encoding": {"x": {"datum": -0.02, "type": "quantitative", "scale": {"domain": [-2.012, 5.602], "nice": false, "zero": false}}, "y": {"datum": 0.108, "type": "quantitative", "scale": {"domain": [-0.2115, 1.231], "nice": false, "zero": false}}}},
    {"data": {"values": [{}]}, "mark": {"type": "text", "text": "P", "fontSize": 19, "fontWeight": "bold", "fontStyle": "italic", "color": "#000000", "align": "left", "baseline": "middle"}, "encoding": {"x": {"datum": -0.02, "type": "quantitative", "scale": {"domain": [-2.012, 5.602], "nice": false, "zero": false}}, "y": {"datum": 0.023, "type": "quantitative", "scale": {"domain": [-0.2115, 1.231], "nice": false, "zero": false}}}},
    {"data": {"values": [{}]}, "mark": {"type": "text", "text": "< 0.001", "fontSize": 19, "fontWeight": "bold", "color": "#000000", "align": "left", "dx": 17, "baseline": "middle"}, "encoding": {"x": {"datum": -0.02, "type": "quantitative", "scale": {"domain": [-2.012, 5.602], "nice": false, "zero": false}}, "y": {"datum": 0.023, "type": "quantitative", "scale": {"domain": [-0.2115, 1.231], "nice": false, "zero": false}}}},
    {"data": {"values": [{}]}, "mark": {"type": "text", "text": "Number at risk", "fontSize": 13, "fontWeight": "bold", "color": "#000000", "align": "left", "baseline": "middle"}, "encoding": {"x": {"datum": -1.41, "type": "quantitative", "scale": {"domain": [-2.012, 5.602], "nice": false, "zero": false}}, "y": {"datum": -0.177, "type": "quantitative", "scale": {"domain": [-0.2115, 1.231], "nice": false, "zero": false}}}},
    {"data": {"values": [{}]}, "mark": {"type": "rule", "color": "#ffc000", "strokeWidth": 2, "strokeDash": [6,4]}, "encoding": {"x": {"datum": -2.012, "type": "quantitative", "scale": {"domain": [-2.012, 5.602], "nice": false, "zero": false}}}},
    {"data": {"values": [{}]}, "mark": {"type": "rule", "color": "#ffc000", "strokeWidth": 2, "strokeDash": [6,4]}, "encoding": {"x": {"datum": 5.602, "type": "quantitative", "scale": {"domain": [-2.012, 5.602], "nice": false, "zero": false}}}}
   ]},
  {"width": 323, "height": 375,
   "layer": [
    {"data": {"values": [{}]}, "mark": {"type": "rect", "fill": "#fdf5f1"}, "encoding": {"x": {"datum": -1.157, "type": "quantitative", "scale": {"domain": [-1.364, 5.31], "nice": false, "zero": false}}, "x2": {"datum": 5.31}}},
    {"data": {"values": [{}]}, "mark": {"type": "rect", "fill": "#ffffff"}, "encoding": {
      "x": {"datum": -1.012, "type": "quantitative", "scale": {"domain": [-1.364, 5.31], "nice": false, "zero": false}, "axis": {"values": [0,1,2,3,4,5], "offset": -45, "title": "Year", "titleX": 184, "zindex": 1}},
      "x2": {"datum": 5.2},
      "y": {"datum": 1.069, "type": "quantitative", "scale": {"domain": [-0.226, 1.211], "nice": false, "zero": false}, "axis": {"values": [0,0.2,0.4,0.6,0.8,1], "format": ".0%", "offset": -52, "title": null, "zindex": 1}},
      "y2": {"datum": -0.226}}},
    {"data": {"values": [{}]}, "mark": {"type": "rule", "color": "#9a9a9a", "strokeWidth": 1.5}, "encoding": {"x": {"datum": -0.289, "type": "quantitative", "scale": {"domain": [-1.364, 5.31], "nice": false, "zero": false}}, "y": {"datum": -0.054, "type": "quantitative", "scale": {"domain": [-0.226, 1.211], "nice": false, "zero": false}}, "y2": {"datum": 1.057}}},
    {"data": {"values": [{}]}, "mark": {"type": "rule", "color": "#9a9a9a", "strokeWidth": 1.5}, "encoding": {"x": {"datum": -0.289, "type": "quantitative", "scale": {"domain": [-1.364, 5.31], "nice": false, "zero": false}}, "x2": {"datum": 5.2}, "y": {"datum": -0.054, "type": "quantitative", "scale": {"domain": [-0.226, 1.211], "nice": false, "zero": false}}}},
    {"data": {"name": "km5"}, "mark": {"type": "line", "strokeWidth": 1.7}, "encoding": {"x": {"field": "t", "type": "quantitative", "title": "Year", "scale": {"domain": [-1.364, 5.31], "nice": false, "zero": false}}, "y": {"field": "s", "type": "quantitative", "title": null, "scale": {"domain": [-0.226, 1.211], "nice": false, "zero": false}}, "color": {"field": "g", "type": "nominal", "scale": {"domain": ["BB(+)","BB(-)"], "range": ["#ff1f1f","#1a9a3c"]}, "legend": null}}},
    {"data": {"values": [{}]}, "mark": {"type": "text", "text": "GLS <7%", "fontSize": 21.5, "fontWeight": "bold", "color": "#3a6bc8", "align": "center", "baseline": "middle"}, "encoding": {"x": {"datum": 2.56, "type": "quantitative", "scale": {"domain": [-1.364, 5.31], "nice": false, "zero": false}}, "y": {"datum": 1.119, "type": "quantitative", "scale": {"domain": [-0.226, 1.211], "nice": false, "zero": false}}}},
    {"data": {"values": [{}]}, "mark": {"type": "text", "text": "Log-rank", "fontSize": 16, "color": "#000000", "align": "right", "dx": -10, "baseline": "middle"}, "encoding": {"x": {"datum": 3.6, "type": "quantitative", "scale": {"domain": [-1.364, 5.31], "nice": false, "zero": false}}, "y": {"datum": 0.885, "type": "quantitative", "scale": {"domain": [-0.226, 1.211], "nice": false, "zero": false}}}},
    {"data": {"values": [{}]}, "mark": {"type": "text", "text": "P", "fontSize": 16, "fontStyle": "italic", "color": "#000000", "align": "center", "baseline": "middle"}, "encoding": {"x": {"datum": 3.6, "type": "quantitative", "scale": {"domain": [-1.364, 5.31], "nice": false, "zero": false}}, "y": {"datum": 0.885, "type": "quantitative", "scale": {"domain": [-0.226, 1.211], "nice": false, "zero": false}}}},
    {"data": {"values": [{}]}, "mark": {"type": "text", "text": "< 0.001", "fontSize": 16, "color": "#000000", "align": "left", "dx": 9, "baseline": "middle"}, "encoding": {"x": {"datum": 3.6, "type": "quantitative", "scale": {"domain": [-1.364, 5.31], "nice": false, "zero": false}}, "y": {"datum": 0.885, "type": "quantitative", "scale": {"domain": [-0.226, 1.211], "nice": false, "zero": false}}}},
    {"data": {"values": [{}]}, "mark": {"type": "text", "text": "Adjusted HR 0.58 (0.47-0.72)", "fontSize": 19, "fontWeight": "bold", "color": "#000000", "align": "left", "baseline": "middle"}, "encoding": {"x": {"datum": -0.06, "type": "quantitative", "scale": {"domain": [-1.364, 5.31], "nice": false, "zero": false}}, "y": {"datum": 0.096, "type": "quantitative", "scale": {"domain": [-0.226, 1.211], "nice": false, "zero": false}}}},
    {"data": {"values": [{}]}, "mark": {"type": "text", "text": "P", "fontSize": 19, "fontWeight": "bold", "fontStyle": "italic", "color": "#000000", "align": "left", "baseline": "middle"}, "encoding": {"x": {"datum": -0.06, "type": "quantitative", "scale": {"domain": [-1.364, 5.31], "nice": false, "zero": false}}, "y": {"datum": 0.008, "type": "quantitative", "scale": {"domain": [-0.226, 1.211], "nice": false, "zero": false}}}},
    {"data": {"values": [{}]}, "mark": {"type": "text", "text": "< 0.001", "fontSize": 19, "fontWeight": "bold", "color": "#000000", "align": "left", "dx": 17, "baseline": "middle"}, "encoding": {"x": {"datum": -0.06, "type": "quantitative", "scale": {"domain": [-1.364, 5.31], "nice": false, "zero": false}}, "y": {"datum": 0.008, "type": "quantitative", "scale": {"domain": [-0.226, 1.211], "nice": false, "zero": false}}}},
    {"data": {"values": [{}]}, "mark": {"type": "rule", "color": "#f4b183", "strokeWidth": 2.5, "strokeDash": [2.5,2.5]}, "encoding": {"x": {"datum": -1.157, "type": "quantitative", "scale": {"domain": [-1.364, 5.31], "nice": false, "zero": false}}}}
   ]},
  {"width": 316, "height": 375, "view": {"fill": "#fdf5f1", "stroke": null},
   "layer": [
    {"data": {"values": [{}]}, "mark": {"type": "rect", "fill": "#ffffff"}, "encoding": {
      "x": {"datum": -0.967, "type": "quantitative", "scale": {"domain": [-1.091, 5.412], "nice": false, "zero": false}, "axis": {"values": [0,1,2,3,4,5], "offset": -45, "title": "Year", "titleX": 171, "zindex": 1}},
      "x2": {"datum": 5.412},
      "y": {"datum": 1.073, "type": "quantitative", "scale": {"domain": [-0.227, 1.215], "nice": false, "zero": false}, "axis": {"values": [0,0.2,0.4,0.6,0.8,1], "format": ".0%", "offset": -41, "title": null, "zindex": 1}},
      "y2": {"datum": -0.227}}},
    {"data": {"values": [{}]}, "mark": {"type": "rule", "color": "#9a9a9a", "strokeWidth": 1.5}, "encoding": {"x": {"datum": -0.247, "type": "quantitative", "scale": {"domain": [-1.091, 5.412], "nice": false, "zero": false}}, "y": {"datum": -0.054, "type": "quantitative", "scale": {"domain": [-0.227, 1.215], "nice": false, "zero": false}}, "y2": {"datum": 1.057}}},
    {"data": {"values": [{}]}, "mark": {"type": "rule", "color": "#9a9a9a", "strokeWidth": 1.5}, "encoding": {"x": {"datum": -0.247, "type": "quantitative", "scale": {"domain": [-1.091, 5.412], "nice": false, "zero": false}}, "x2": {"datum": 5.27}, "y": {"datum": -0.054, "type": "quantitative", "scale": {"domain": [-0.227, 1.215], "nice": false, "zero": false}}}},
    {"data": {"name": "km6"}, "mark": {"type": "line", "strokeWidth": 1.7}, "encoding": {"x": {"field": "t", "type": "quantitative", "title": "Year", "scale": {"domain": [-1.091, 5.412], "nice": false, "zero": false}}, "y": {"field": "s", "type": "quantitative", "title": null, "scale": {"domain": [-0.227, 1.215], "nice": false, "zero": false}}, "color": {"field": "g", "type": "nominal", "scale": {"domain": ["BB(+)","BB(-)"], "range": ["#ff1f1f","#1a9a3c"]}, "legend": null}}},
    {"data": {"values": [{}]}, "mark": {"type": "text", "text": "GLS <13%", "fontSize": 21.5, "fontWeight": "bold", "color": "#3a6bc8", "align": "center", "baseline": "middle"}, "encoding": {"x": {"datum": 2.63, "type": "quantitative", "scale": {"domain": [-1.091, 5.412], "nice": false, "zero": false}}, "y": {"datum": 1.104, "type": "quantitative", "scale": {"domain": [-0.227, 1.215], "nice": false, "zero": false}}}},
    {"data": {"values": [{}]}, "mark": {"type": "text", "text": "Log-rank", "fontSize": 16, "color": "#000000", "align": "right", "dx": -10, "baseline": "middle"}, "encoding": {"x": {"datum": 3.6, "type": "quantitative", "scale": {"domain": [-1.091, 5.412], "nice": false, "zero": false}}, "y": {"datum": 0.873, "type": "quantitative", "scale": {"domain": [-0.227, 1.215], "nice": false, "zero": false}}}},
    {"data": {"values": [{}]}, "mark": {"type": "text", "text": "P", "fontSize": 16, "fontStyle": "italic", "color": "#000000", "align": "center", "baseline": "middle"}, "encoding": {"x": {"datum": 3.6, "type": "quantitative", "scale": {"domain": [-1.091, 5.412], "nice": false, "zero": false}}, "y": {"datum": 0.873, "type": "quantitative", "scale": {"domain": [-0.227, 1.215], "nice": false, "zero": false}}}},
    {"data": {"values": [{}]}, "mark": {"type": "text", "text": "< 0.001", "fontSize": 16, "color": "#000000", "align": "left", "dx": 9, "baseline": "middle"}, "encoding": {"x": {"datum": 3.6, "type": "quantitative", "scale": {"domain": [-1.091, 5.412], "nice": false, "zero": false}}, "y": {"datum": 0.873, "type": "quantitative", "scale": {"domain": [-0.227, 1.215], "nice": false, "zero": false}}}},
    {"data": {"values": [{}]}, "mark": {"type": "text", "text": "Adjusted HR 0.68 (0.58-0.79)", "fontSize": 19, "fontWeight": "bold", "color": "#000000", "align": "left", "baseline": "middle"}, "encoding": {"x": {"datum": -0.02, "type": "quantitative", "scale": {"domain": [-1.091, 5.412], "nice": false, "zero": false}}, "y": {"datum": 0.075, "type": "quantitative", "scale": {"domain": [-0.227, 1.215], "nice": false, "zero": false}}}},
    {"data": {"values": [{}]}, "mark": {"type": "text", "text": "P", "fontSize": 19, "fontWeight": "bold", "fontStyle": "italic", "color": "#000000", "align": "left", "baseline": "middle"}, "encoding": {"x": {"datum": -0.02, "type": "quantitative", "scale": {"domain": [-1.091, 5.412], "nice": false, "zero": false}}, "y": {"datum": -0.01, "type": "quantitative", "scale": {"domain": [-0.227, 1.215], "nice": false, "zero": false}}}},
    {"data": {"values": [{}]}, "mark": {"type": "text", "text": "< 0.001", "fontSize": 19, "fontWeight": "bold", "color": "#000000", "align": "left", "dx": 17, "baseline": "middle"}, "encoding": {"x": {"datum": -0.02, "type": "quantitative", "scale": {"domain": [-1.091, 5.412], "nice": false, "zero": false}}, "y": {"datum": -0.01, "type": "quantitative", "scale": {"domain": [-0.227, 1.215], "nice": false, "zero": false}}}}
   ]},
  {"width": 367, "height": 48, "view": {"fill": "#e9eef8", "stroke": null},
   "layer": [
    {"data": {"name": "r4"}, "mark": {"type": "text", "align": "left", "dx": -6, "baseline": "middle", "fontSize": 13.5, "color": "#000000"}, "encoding": {"x": {"field": "t", "type": "quantitative", "scale": {"domain": [-2.012, 5.602], "nice": false, "zero": false}, "axis": null}, "y": {"field": "g", "type": "nominal", "scale": {"type": "point", "domain": ["BB(+)","BB(-)"], "padding": 0.763}, "axis": null}, "text": {"field": "n", "type": "nominal"}}},
    {"data": {"name": "groups"}, "mark": {"type": "tick", "orient": "horizontal", "size": 20, "thickness": 2.5}, "encoding": {"x": {"datum": -1.46, "type": "quantitative", "scale": {"domain": [-2.012, 5.602], "nice": false, "zero": false}, "axis": null}, "y": {"field": "g", "type": "nominal", "scale": {"type": "point", "domain": ["BB(+)","BB(-)"], "padding": 0.763}, "axis": null}, "color": {"field": "g", "type": "nominal", "scale": {"domain": ["BB(+)","BB(-)"], "range": ["#ff1f1f","#1a9a3c"]}, "legend": null}}},
    {"data": {"name": "groups"}, "mark": {"type": "text", "align": "left", "baseline": "middle", "fontSize": 13, "color": "#000000"}, "encoding": {"x": {"datum": -1.14, "type": "quantitative", "scale": {"domain": [-2.012, 5.602], "nice": false, "zero": false}, "axis": null}, "y": {"field": "g", "type": "nominal", "scale": {"type": "point", "domain": ["BB(+)","BB(-)"], "padding": 0.763}, "axis": null}, "text": {"field": "g", "type": "nominal"}}},
    {"data": {"values": [{}]}, "mark": {"type": "rule", "color": "#ffc000", "strokeWidth": 2, "strokeDash": [6,4]}, "encoding": {"x": {"datum": -2.012, "type": "quantitative", "scale": {"domain": [-2.012, 5.602], "nice": false, "zero": false}, "axis": null}}},
    {"data": {"values": [{}]}, "mark": {"type": "rule", "color": "#ffc000", "strokeWidth": 2, "strokeDash": [6,4]}, "encoding": {"x": {"datum": 5.602, "type": "quantitative", "scale": {"domain": [-2.012, 5.602], "nice": false, "zero": false}, "axis": null}}}
   ]},
  {"width": 323, "height": 48,
   "layer": [
    {"data": {"values": [{}]}, "mark": {"type": "rect", "fill": "#fdf5f1"}, "encoding": {"x": {"datum": -1.157, "type": "quantitative", "scale": {"domain": [-1.364, 5.31], "nice": false, "zero": false}, "axis": null}, "x2": {"datum": 5.31}}},
    {"data": {"name": "r5"}, "mark": {"type": "text", "align": "left", "dx": -6, "baseline": "middle", "fontSize": 13.5, "color": "#000000"}, "encoding": {"x": {"field": "t", "type": "quantitative", "scale": {"domain": [-1.364, 5.31], "nice": false, "zero": false}, "axis": null}, "y": {"field": "g", "type": "nominal", "scale": {"type": "point", "domain": ["BB(+)","BB(-)"], "padding": 0.763}, "axis": null}, "text": {"field": "n", "type": "nominal"}}},
    {"data": {"values": [{}]}, "mark": {"type": "rule", "color": "#f4b183", "strokeWidth": 2.5, "strokeDash": [2.5,2.5]}, "encoding": {"x": {"datum": -1.157, "type": "quantitative", "scale": {"domain": [-1.364, 5.31], "nice": false, "zero": false}, "axis": null}}}
   ]},
  {"width": 316, "height": 48, "view": {"fill": "#fdf5f1", "stroke": null},
   "layer": [
    {"data": {"name": "r6"}, "mark": {"type": "text", "align": "left", "dx": -6, "baseline": "middle", "fontSize": 13.5, "color": "#000000"}, "encoding": {"x": {"field": "t", "type": "quantitative", "scale": {"domain": [-1.091, 5.412], "nice": false, "zero": false}, "axis": null}, "y": {"field": "g", "type": "nominal", "scale": {"type": "point", "domain": ["BB(+)","BB(-)"], "padding": 0.763}, "axis": null}, "text": {"field": "n", "type": "nominal"}}}
   ]}
]
}
